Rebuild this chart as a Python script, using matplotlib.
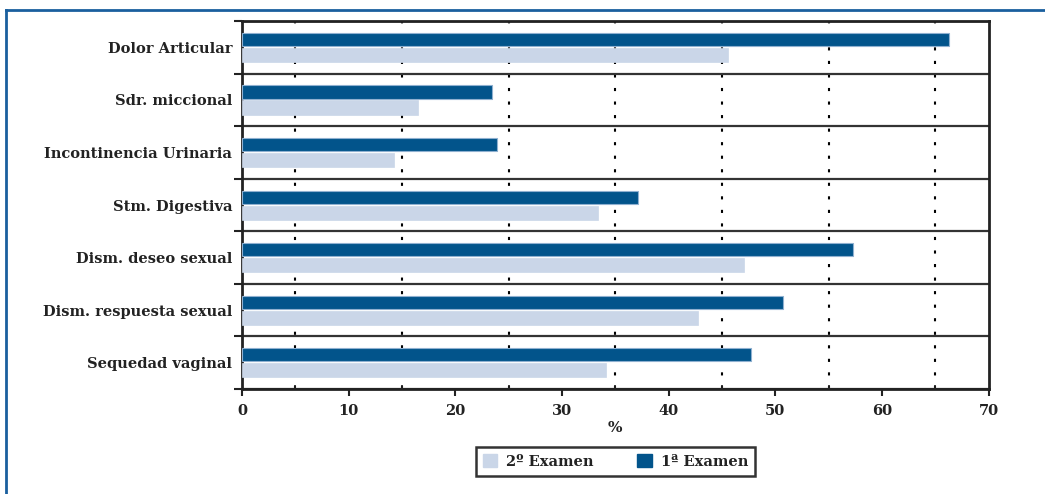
import numpy as np
import matplotlib.pyplot as plt
from matplotlib.lines import Line2D

categories = ["Dolor Articular", "Sdr. miccional", "Incontinencia Urinaria",
              "Stm. Digestiva", "Dism. deseo sexual", "Dism. respuesta sexual",
              "Sequedad vaginal"]
examen1 = [66.3, 23.4, 23.9, 37.1, 57.3, 50.7, 47.7]
examen2 = [45.6, 16.5, 14.3, 33.4, 47.1, 42.8, 34.1]
xticks = [0, 10, 20, 30, 40, 50, 60, 70]

dark = "#02548B"
light = "#CAD6E8"
ink = "#222222"

plt.rcParams['font.family'] = ['DejaVu Serif']
plt.rcParams['font.weight'] = 'bold'

W, H = 1045, 494
fig = plt.figure(figsize=(W / 100, H / 100), dpi=100)
ax = fig.add_axes([242 / W, 1 - 389 / H, (988.5 - 242) / W, (389 - 21) / H])

y = np.arange(len(categories))
ax.barh(y - 0.15, examen1, height=0.25, color=dark, edgecolor="#8FB0D0",
        linewidth=0.8, label="1ª Examen", zorder=3)
ax.barh(y + 0.145, examen2, height=0.27, color=light, edgecolor=light,
        linewidth=0.5, label="2º Examen", zorder=3)

ax.set_xlim(0, 70)
ax.set_ylim(len(categories) - 0.5, -0.5)

# category labels on minor ticks, dividers on major ticks
ax.set_yticks(np.arange(len(categories) + 1) - 0.5)
ax.set_yticklabels([])
ax.set_yticks(y, minor=True)
ax.set_yticklabels(categories, minor=True, fontsize=10.5, color=ink)
ax.tick_params(axis="y", which="major", direction="out", length=6, width=1.5, color=ink)
ax.tick_params(axis="y", which="minor", length=0, pad=7)
ax.grid(axis="y", which="major", color="#333333", linewidth=1.6, zorder=1)

ax.set_xticks(xticks)
ax.set_xticklabels([str(t) for t in xticks], fontsize=10.5, color=ink)
ax.set_xticks(np.arange(5, 70, 10), minor=True)
ax.tick_params(axis="x", which="major", direction="out", length=5, width=1.5, color=ink, pad=6)
ax.tick_params(axis="x", which="minor", direction="in", length=3, width=1.2, color=ink)
ax.grid(axis="x", which="minor", color="black", linewidth=1.5,
        linestyle=(0, (1.5, 5)), zorder=2)

for s in ax.spines.values():
    s.set_linewidth(2)
    s.set_color(ink)

ax.set_xlabel("%", fontsize=11, fontweight="bold", color=ink, labelpad=2)

handles = [plt.Rectangle((0, 0), 1, 1, color=light), plt.Rectangle((0, 0), 1, 1, color=dark)]
leg = fig.legend(handles, ["2º Examen", "1ª Examen"], ncol=2, loc="upper center",
                 bbox_to_anchor=(615.5 / W, 1 - 447 / H), fancybox=False,
                 edgecolor="black", fontsize=10.5, handlelength=1.0, handleheight=1.0,
                 columnspacing=3.0, borderpad=0.5, handletextpad=0.6, borderaxespad=0)
leg.get_frame().set_linewidth(1.8)
for t in leg.get_texts():
    t.set_color(ink)

# blue frame at the top and left of the picture
fig.add_artist(Line2D([6 / W, 6 / W], [0, 1 - 10 / H], color="#1A5F9E", linewidth=2))
fig.add_artist(Line2D([6 / W, 1], [1 - 10 / H, 1 - 10 / H], color="#1A5F9E", linewidth=2))

fig.savefig("out.png", dpi=100)
